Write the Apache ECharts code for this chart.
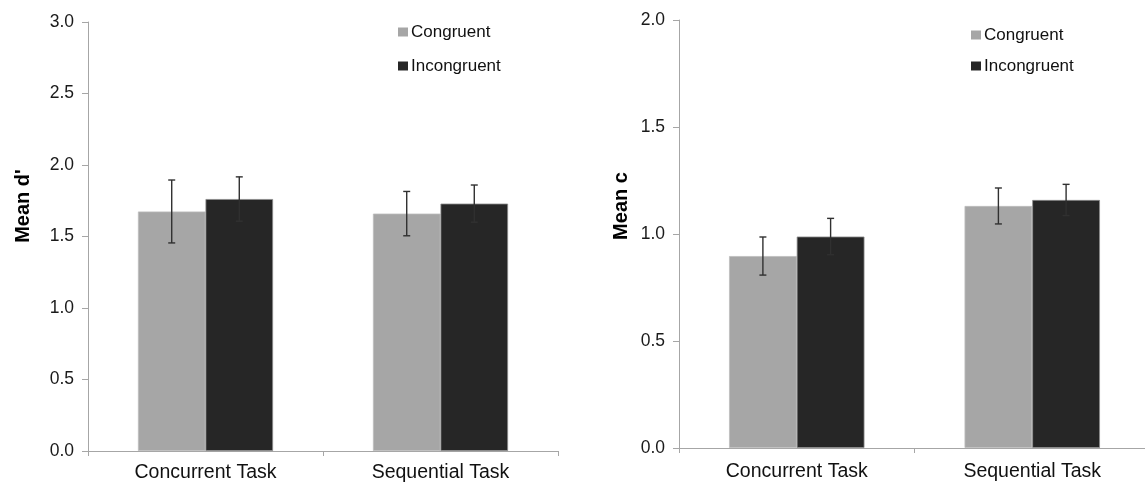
<!DOCTYPE html>
<html>
<head>
<meta charset="utf-8">
<script src="https://cdn.jsdelivr.net/npm/echarts@6/dist/echarts.min.js"></script>
<style>
html,body{margin:0;padding:0;background:#fff;}
#chart{width:1145px;height:482px;}
</style>
</head>
<body>
<div id="chart"></div>
<script>
// ---- Data ----
const categories = ['Concurrent Task', 'Sequential Task'];
const seriesNames = ['Congruent', 'Incongruent'];

// Left panel: Mean d'
const dCongruent = [1.675, 1.66];
const dCongruentErr = [0.22, 0.155];
const dIncongruent = [1.762, 1.73];
const dIncongruentErr = [0.155, 0.13];

// Right panel: Mean c
const cCongruent = [0.897, 1.131];
const cCongruentErr = [0.089, 0.084];
const cIncongruent = [0.988, 1.159];
const cIncongruentErr = [0.085, 0.073];

const dTicks = [0, 0.5, 1.0, 1.5, 2.0, 2.5, 3.0];
const cTicks = [0, 0.5, 1.0, 1.5, 2.0];

// ---- Style ----
const colCong = '#a6a6a6';
const colIncong = '#262626';
const axisCol = '#a6a6a6';
const gapFrac = 0.425;
const FONT = 'Arial, "Liberation Sans", sans-serif';

function errData(vals, errs) {
  return vals.map((v, i) => [i, v - errs[i], v + errs[i]]);
}

function errRender(sign) {
  return function (params, api) {
    const band = api.size([1, 0])[0];
    const bw = band * (1 - gapFrac) / 2;
    const off = sign * bw / 2;
    const lo = api.coord([api.value(0), api.value(1)]);
    const hi = api.coord([api.value(0), api.value(2)]);
    const x = lo[0] + off;
    const cap = 3.5;
    const st = { stroke: '#303030', lineWidth: 1.4 };
    return {
      type: 'group',
      children: [
        { type: 'line', shape: { x1: x, y1: lo[1], x2: x, y2: hi[1] }, style: st },
        { type: 'line', shape: { x1: x - cap, y1: lo[1], x2: x + cap, y2: lo[1] }, style: st },
        { type: 'line', shape: { x1: x - cap, y1: hi[1], x2: x + cap, y2: hi[1] }, style: st }
      ]
    };
  };
}

function xAxisCfg(gi, margin) {
  return {
    type: 'category', gridIndex: gi, data: categories,
    axisLine: { lineStyle: { color: axisCol, width: 1 } },
    axisTick: { show: true, length: 5, lineStyle: { color: axisCol } },
    axisLabel: { color: '#111', fontSize: 19.5, fontFamily: FONT, margin: margin }
  };
}
function yAxisCfg(gi, max, ticks) {
  return {
    type: 'value', gridIndex: gi, min: ticks[0], max: max, interval: 0.5,
    splitLine: { show: false },
    axisLine: { show: true, lineStyle: { color: axisCol, width: 1 } },
    axisTick: { show: true, length: 6, lineStyle: { color: axisCol } },
    axisLabel: { color: '#1a1a1a', fontSize: 17.5, fontFamily: FONT, margin: 14,
      formatter: v => v.toFixed(1) }
  };
}
function barSeries(name, data, gi, color, border) {
  return {
    name: name, type: 'bar', xAxisIndex: gi, yAxisIndex: gi, data: data,
    barGap: '0%', barCategoryGap: (gapFrac * 100) + '%',
    itemStyle: { color: color, borderColor: border, borderWidth: 0.8 },
    emphasis: { disabled: true }
  };
}
function errSeries(name, vals, errs, gi, sign) {
  return {
    name: name + ' err', type: 'custom', xAxisIndex: gi, yAxisIndex: gi,
    data: errData(vals, errs), renderItem: errRender(sign), silent: true, z: 10
  };
}
function legendCfg(left, top, gap) {
  return {
    data: seriesNames, orient: 'vertical', left: left, top: top, padding: 0,
    itemWidth: 10, itemHeight: 9, itemGap: gap, icon: 'rect',
    selectedMode: false,
    itemStyle: { borderWidth: 0 },
    textStyle: { fontSize: 17, fontFamily: FONT, color: '#111', lineHeight: 20, padding: [0, 0, 0, -2] }
  };
}

const chart = echarts.init(document.getElementById('chart'), null, { renderer: 'canvas' });
chart.setOption({
  backgroundColor: '#fff',
  animation: false,
  grid: [
    { left: 88, top: 22, width: 470, bottom: 31, outerBoundsMode: 'none', containLabel: false },
    { left: 679, top: 20, width: 471, bottom: 34, outerBoundsMode: 'none', containLabel: false }
  ],
  legend: [ legendCfg(398, 22, 14), legendCfg(971, 25, 11) ],
  xAxis: [ xAxisCfg(0, 12), xAxisCfg(1, 14) ],
  yAxis: [ yAxisCfg(0, 3, dTicks), yAxisCfg(1, 2, cTicks) ],
  graphic: [
    { type: 'text', x: 23, y: 206, rotation: Math.PI / 2,
      style: { text: "Mean d'", font: 'bold 20px ' + FONT, fill: '#000', align: 'center', verticalAlign: 'middle' } },
    { type: 'text', x: 621, y: 206, rotation: Math.PI / 2,
      style: { text: 'Mean c', font: 'bold 20px ' + FONT, fill: '#000', align: 'center', verticalAlign: 'middle' } }
  ],
  series: [
    barSeries('Congruent', dCongruent, 0, colCong, '#bdbdbd'),
    barSeries('Incongruent', dIncongruent, 0, colIncong, '#8a8a8a'),
    errSeries('Congruent', dCongruent, dCongruentErr, 0, -1),
    errSeries('Incongruent', dIncongruent, dIncongruentErr, 0, 1),
    barSeries('Congruent', cCongruent, 1, colCong, '#bdbdbd'),
    barSeries('Incongruent', cIncongruent, 1, colIncong, '#8a8a8a'),
    errSeries('Congruent', cCongruent, cCongruentErr, 1, -1),
    errSeries('Incongruent', cIncongruent, cIncongruentErr, 1, 1)
  ]
});
</script>
</body>
</html>
